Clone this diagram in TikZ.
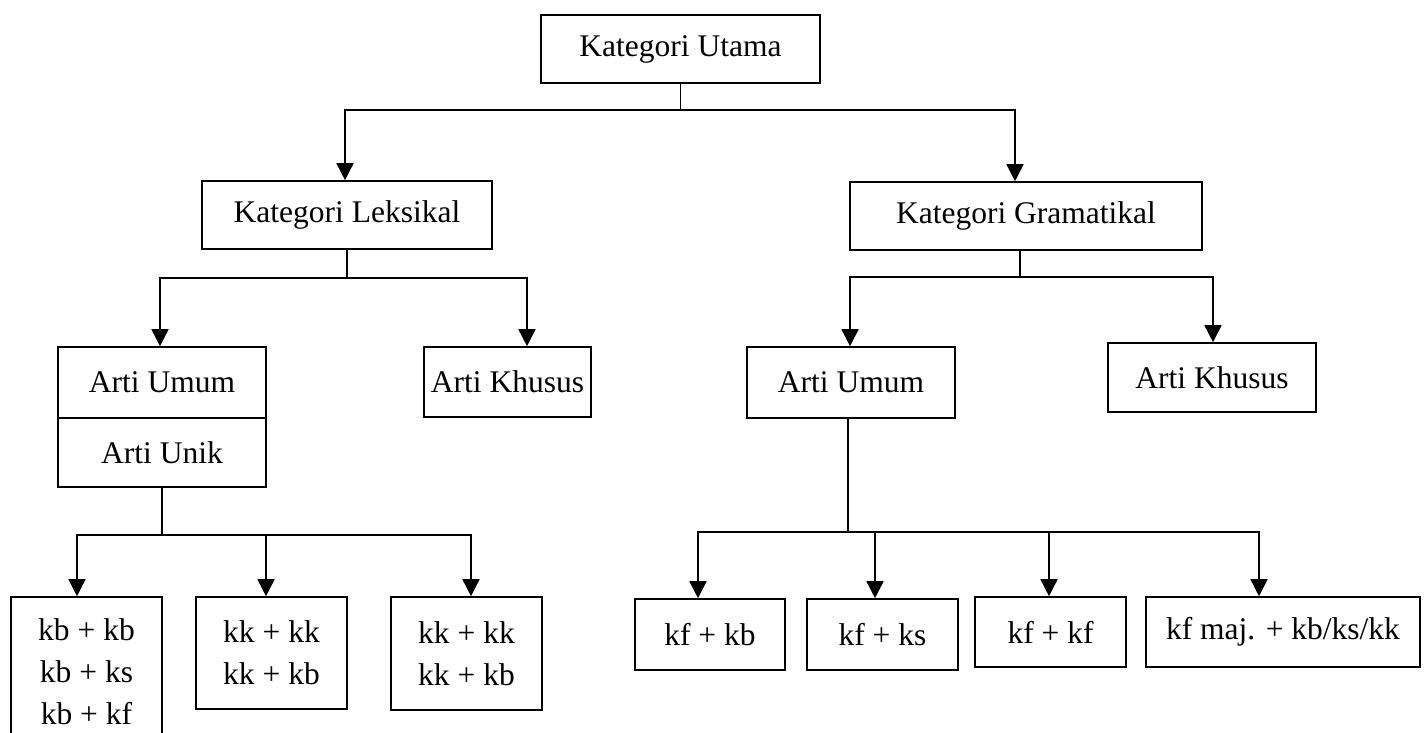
\documentclass[tikz,border=0pt]{standalone}
\usepackage{fontspec}
\setmainfont{Liberation Serif}
\usetikzlibrary{arrows.meta}
\begin{document}
\begin{tikzpicture}[x=1pt,y=-1pt,
  box/.style={draw, line width=1.6pt, inner sep=0pt, align=center,
    font=\fontsize{31.5}{42}\selectfont},
  conn/.style={line width=1.6pt},
  arr/.style={conn, -{Triangle[length=17pt,width=17pt]}}]
\useasboundingbox (0,0) rectangle (1424,733);
\fill[white] (0,0) rectangle (1424,733);
% nodes
\node[box, minimum width=279pt, minimum height=68pt] (ku) at (680.5,49) {Kategori Utama};
\node[box, minimum width=290pt, minimum height=68pt] (kl) at (347,215) {Kategori Leksikal};
\node[box, minimum width=352pt, minimum height=68pt] (kg) at (1026,216) {Kategori Gramatikal};
\node[box, minimum width=208pt, minimum height=71pt] (au1) at (162,382.5) {Arti Umum};
\node[box, minimum width=208pt, minimum height=69pt] (aun) at (162,452.5) {Arti Unik};
\node[box, minimum width=167pt, minimum height=70pt] (ak1) at (507.5,382) {Arti Khusus};
\node[box, minimum width=208pt, minimum height=71pt] (au2) at (851,382.5) {Arti Umum};
\node[box, minimum width=208pt, minimum height=69pt] (ak2) at (1212,377.5) {Arti Khusus};
\node[box, minimum width=151pt, minimum height=150pt] (b1) at (86.5,672) {kb + kb\\kb + ks\\kb + kf};
\node[box, minimum width=151pt, minimum height=112pt] (b2) at (271.5,653) {kk + kk\\kk + kb};
\node[box, minimum width=151pt, minimum height=113pt] (b3) at (466.5,653.5) {kk + kk\\kk + kb};
\node[box, minimum width=150pt, minimum height=71pt] (r1) at (710,634.5) {kf + kb};
\node[box, minimum width=151pt, minimum height=71pt] (r2) at (882.5,634.5) {kf + ks};
\node[box, minimum width=151pt, minimum height=70pt] (r3) at (1050.5,632) {kf + kf};
\node[box, minimum width=274pt, minimum height=70pt] (r4) at (1283,632) {kf maj. + kb/ks/kk};
% junctions
\coordinate (j0) at (680.5,110);
\coordinate (j1) at (347,278);
\coordinate (j2) at (1020,277);
\coordinate (j3) at (162,535);
\coordinate (j4) at (848,532);
% connectors
\draw[conn] (ku.south) -- (j0);
\draw[arr] (j0) -| ([xshift=-2pt]kl.north);
\draw[arr] (j0) -| ([xshift=-11pt]kg.north);
\draw[conn] (kl.south) -- (j1);
\draw[arr] (j1) -| ([xshift=-2pt]au1.north);
\draw[arr] (j1) -| ([xshift=19.5pt]ak1.north);
\draw[conn] ([xshift=-6pt]kg.south) -- (j2);
\draw[arr] (j2) -| ([xshift=-1pt]au2.north);
\draw[arr] (j2) -| ([xshift=1pt]ak2.north);
\draw[conn] (aun.south) -- (j3);
\draw[arr] (j3) -| ([xshift=-9.5pt]b1.north);
\draw[arr] (j3) -| ([xshift=-5.5pt]b2.north);
\draw[arr] (j3) -| ([xshift=4.5pt]b3.north);
\draw[conn] ([xshift=-3pt]au2.south) -- (j4);
\draw[arr] (j4) -| ([xshift=-12pt]r1.north);
\draw[arr] (j4) -| ([xshift=-7.5pt]r2.north);
\draw[arr] (j4) -| ([xshift=-1.5pt]r3.north);
\draw[arr] (j4) -| ([xshift=-24pt]r4.north);
\end{tikzpicture}
\end{document}
